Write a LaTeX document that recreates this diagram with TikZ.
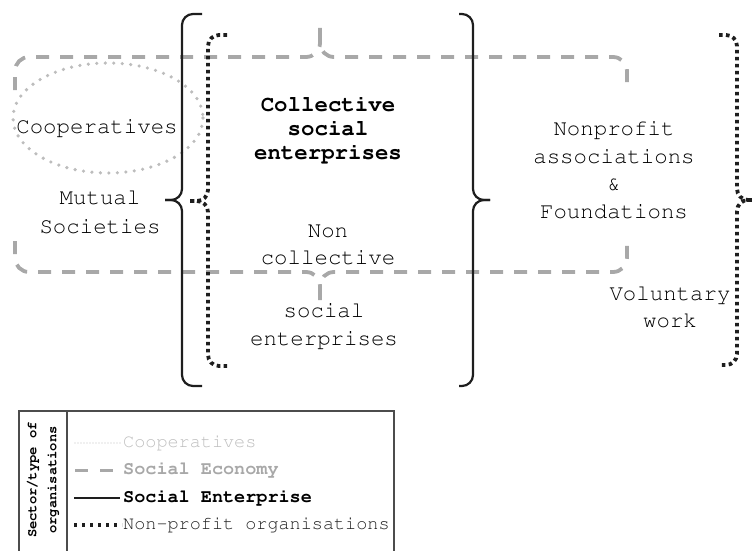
\documentclass[tikz,border=0pt]{standalone}
\usepackage[T1,TU]{fontenc}
\usepackage{xcolor}
\usepackage{tikz}
\newcommand\crfont{\fontencoding{T1}\fontfamily{pcr}\selectfont}
\definecolor{ecogray}{HTML}{A8A8A8}
\definecolor{coopgray}{HTML}{BDBDBD}
\definecolor{inkgray}{HTML}{1E1E1E}

\begin{document}
\begin{tikzpicture}[x=1pt, y=-1pt,
		coop/.style={coopgray, line width=3.6pt, line cap=round, dash pattern=on 0pt off 8.5pt},
		soceco/.style={ecogray, line width=3.8pt, dash pattern=on 13pt off 11pt, rounded corners=14pt},
		socent/.style={inkgray, line width=2.2pt, rounded corners=11pt},
		nonprof/.style={inkgray, line width=3.8pt, dash pattern=on 3.6pt off 3.4pt, rounded corners=11pt},
		lbl/.style={font=\crfont\fontsize{22.4}{28}\selectfont, text=black, align=center, inner sep=0pt},
		legtext/.style={font=\crfont\fontsize{18.5}{22}\selectfont, anchor=west, inner sep=0pt}]
	\useasboundingbox (0,0) rectangle (752,551);

	% cooperatives
	\draw[coop] (108,118) ellipse [x radius=95, y radius=55];

	% social economy
	\draw[soceco] (15,90) |- (320,57) -- (320,28);
	\draw[soceco] (320,28) -- (320,57) -| (627,88);
	\draw[soceco] (15,241) |- (320,272) -- (320,300);
	\draw[soceco] (320,300) -- (320,272) -| (627,241);

	% social enterprise
	\draw[socent] (202,14) -| (182,200) -- (165,200);
	\draw[socent] (165,200) -- (182,200) |- (202,386);
	\draw[socent] (459,14) -| (473,200) -- (490,200);
	\draw[socent] (490,200) -- (473,200) |- (459,386);

	% non-profit organisations
	\draw[nonprof] (227,35) -| (208,201) -- (190,201);
	\draw[nonprof] (190,201) -- (208,201) |- (227,366);
	\draw[nonprof] (719,35) -| (737,200) -- (752,200);
	\draw[nonprof] (752,200) -- (737,200) |- (719,365);

	\node[lbl] (coops) at (97,128) {Cooperatives};
	\node[lbl, font=\crfont\fontsize{22.4}{29}\selectfont] (mutual) at (100,212) {Mutual\\Societies};
	\node[lbl, font=\crfont\bfseries\fontsize{22.4}{24}\selectfont] (collse) at (328,130) {Collective\\social\\enterprises};
	\node[lbl, font=\crfont\fontsize{22.4}{27}\selectfont] (noncoll) at (328,245) {Non\\collective};
	\node[lbl] (socse) at (324,326) {social\\enterprises};
	\node[lbl, font=\crfont\fontsize{22.4}{27.5}\selectfont] (npa) at (614,170) {Nonprofit\\associations\\\&\\Foundations};
	\node[lbl, font=\crfont\fontsize{22.4}{27}\selectfont] (volwork) at (670,307) {Voluntary\\work};

	% legend
	\draw[gray!60!black, line width=1.8pt] (19,551) |- (394,411) -- (394,551);
	\draw[gray!60!black, line width=1.8pt] (67,411) -- (67,551);
	\node[rotate=90, font=\crfont\bfseries\fontsize{13.8}{20}\selectfont, align=center, text=black, inner sep=0pt] (legtitle) at (43,480) {Sector/type of\\organisations};

	\draw[coopgray, line width=1.4pt, line cap=round, dash pattern=on 0pt off 3pt] (75,443) -- (121,443);
	\node[legtext, text=coopgray] (legcoop) at (123,443) {Cooperatives};
	\draw[ecogray, line width=3pt, dash pattern=on 13pt off 12pt] (75,470) -- (115,470);
	\node[legtext, text=ecogray, font=\crfont\bfseries\fontsize{18.5}{22}\selectfont] (legeco) at (123,470) {Social Economy};
	\draw[inkgray, line width=2pt] (74,498) -- (120,498);
	\node[legtext, text=black, font=\crfont\bfseries\fontsize{18.5}{22}\selectfont] (legse) at (123,498) {Social Enterprise};
	\draw[inkgray, line width=3.4pt, dash pattern=on 3.4pt off 4.6pt] (74,525) -- (122,525);
	\node[legtext, text=gray!25!black] (legnp) at (123,525) {Non-profit organisations};
\end{tikzpicture}
\end{document}
